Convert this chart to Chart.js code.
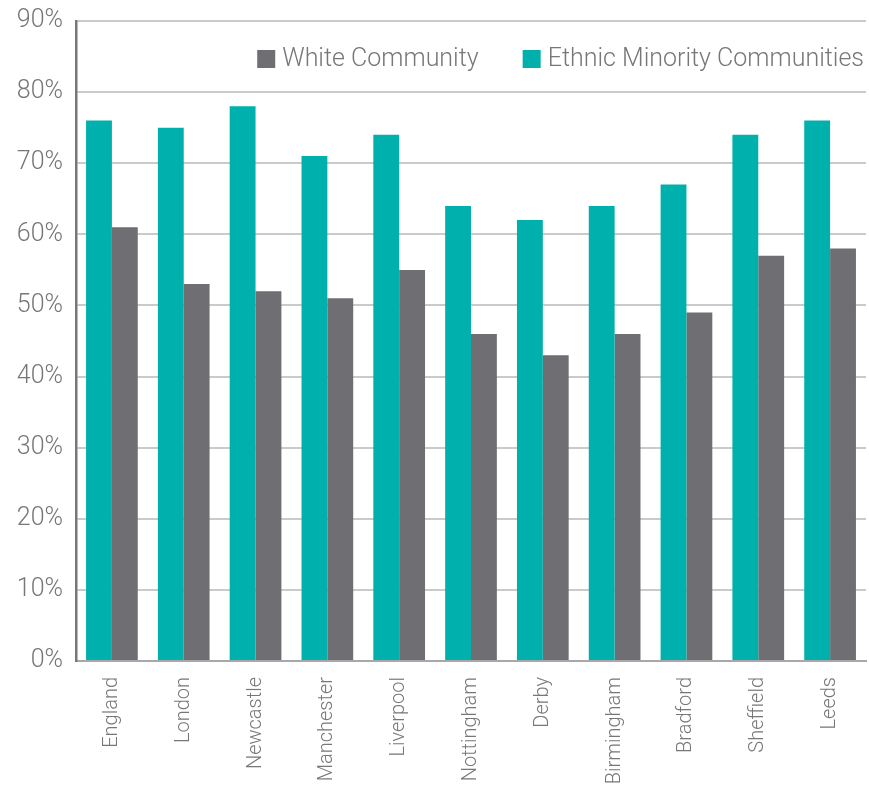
<!DOCTYPE html>
<html>
<head>
<meta charset="utf-8">
<script src="https://cdn.jsdelivr.net/npm/chart.js@4"></script>
<style>
  html, body { margin: 0; padding: 0; background: #fff; }
  #wrap { width: 869px; height: 788px; }
</style>
</head>
<body>
<div id="wrap"><canvas id="chart" width="869" height="788"></canvas></div>
<script>
const categories = ['England', 'London', 'Newcastle', 'Manchester', 'Liverpool', 'Nottingham', 'Derby', 'Birmingham', 'Bradford', 'Sheffield', 'Leeds'];
const ethnicMinority = [76, 75, 78, 71, 74, 64, 62, 64, 67, 74, 76];
const whiteCommunity = [61, 53, 52, 51, 55, 46, 43, 46, 49, 57, 58];
const yTicks = [0, 10, 20, 30, 40, 50, 60, 70, 80, 90];

const FONT = 'Roboto, "Liberation Sans", Helvetica, Arial, sans-serif';
const TEXT = '#77777a';
const TEAL = '#00b0ad';
const GREY = '#6f6e73';

// Legend drawn inside the plot, top-right, White first then Ethnic
const insideLegend = {
  id: 'insideLegend',
  afterDatasetsDraw(chart) {
    const { ctx, chartArea } = chart;
    const items = chart.data.datasets.slice().reverse();
    const box = 18, gap = 7, between = 44;
    const cy = chartArea.top + 38;
    ctx.save();
    ctx.font = '300 25px ' + FONT;
    ctx.textBaseline = 'middle';
    ctx.textAlign = 'left';
    const widths = items.map(d => ctx.measureText(d.label).width);
    let total = 0;
    widths.forEach((w, i) => { total += box + gap + w + (i < widths.length - 1 ? between : 0); });
    let x = chartArea.right - 2 - total;
    items.forEach((d, i) => {
      ctx.fillStyle = d.backgroundColor;
      ctx.fillRect(x, cy - box / 2, box, box);
      ctx.fillStyle = TEXT;
      ctx.fillText(d.label, x + box + gap, cy + 1);
      x += box + gap + widths[i] + between;
    });
    ctx.restore();
  }
};

new Chart(document.getElementById('chart'), {
  type: 'bar',
  data: {
    labels: categories,
    datasets: [
      { label: 'Ethnic Minority Communities', data: ethnicMinority, backgroundColor: TEAL },
      { label: 'White Community', data: whiteCommunity, backgroundColor: GREY }
    ]
  },
  options: {
    responsive: false,
    animation: false,
    layout: { padding: { top: 21, right: 3, left: 0, bottom: 0 } },
    datasets: { bar: { barPercentage: 1.0, categoryPercentage: 0.72, borderWidth: 0 } },
    plugins: {
      legend: { display: false },
      tooltip: { enabled: false }
    },
    scales: {
      x: {
        grid: { display: false, drawTicks: false },
        border: { display: true, color: '#a8a8aa', width: 2 },
        ticks: {
          minRotation: 90, maxRotation: 90, padding: 16,
          color: TEXT, font: { family: FONT, size: 20, weight: 300 }
        },
        afterFit: s => { s.height = 127; s.paddingLeft = 0; s.paddingRight = 0; }
      },
      y: {
        min: 0, max: 90,
        afterBuildTicks: s => { s.ticks = yTicks.map(v => ({ value: v })); },
        grid: { color: '#cacaca', lineWidth: 2, drawTicks: false },
        border: { display: true, color: '#77777a', width: 2.5 },
        ticks: {
          padding: 13, color: TEXT,
          font: { family: FONT, size: 25, weight: 300 },
          callback: v => v + '%'
        },
        afterFit: s => { s.width = 76; s.paddingTop = 0; s.paddingBottom = 0; }
      }
    }
  },
  plugins: [insideLegend]
});
</script>
</body>
</html>
